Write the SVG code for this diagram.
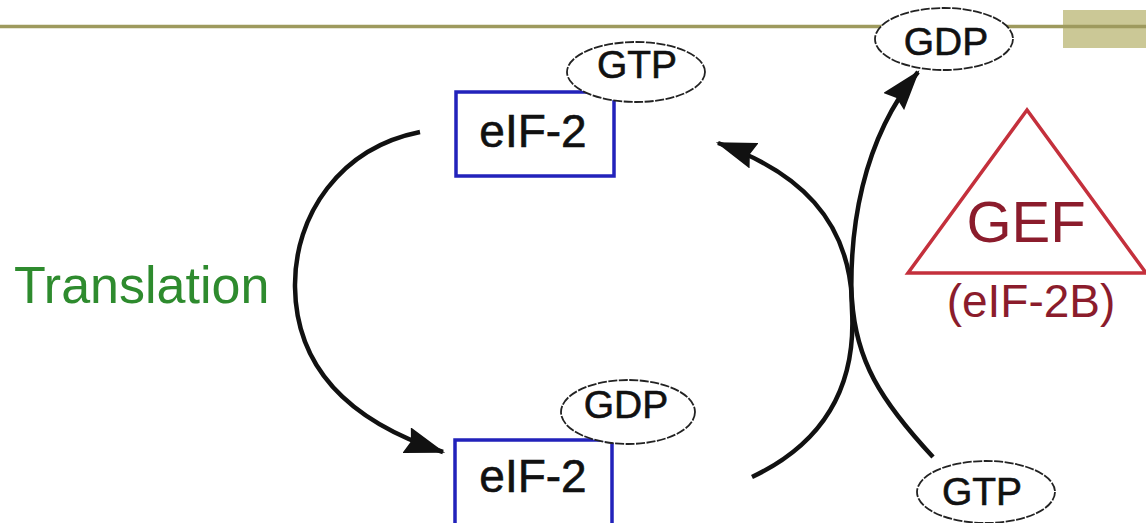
<svg xmlns="http://www.w3.org/2000/svg" width="1146" height="523" viewBox="0 0 1146 523">
<defs>
<style>
.box{fill:#fff;stroke:#2222bb;stroke-width:3.5}
.ell{fill:#fff;stroke:#222;stroke-width:1.8;stroke-dasharray:9 1.5}
.t{font-family:"Liberation Sans",Arial,sans-serif;fill:#111;stroke:#111;stroke-width:0.6;text-anchor:middle}
.eif{font-size:46px}
.nuc{font-size:39px}
.arc{fill:none;stroke:#111;stroke-width:4.5}
</style>
<marker id="ah" viewBox="0 0 18 12" refX="17" refY="6" markerWidth="9" markerHeight="6" markerUnits="strokeWidth" orient="auto">
<path d="M0,0 L18,6 L0,12 L2,6 Z" fill="#111"/>
</marker>
</defs>
<rect width="1146" height="523" fill="#fff"/>
<g id="header">
<line x1="0" y1="26.5" x2="1146" y2="26.5" stroke="#9e9a5e" stroke-width="3.5"/>
<rect x="1063" y="10" width="83" height="38" fill="#cbc896"/>
<line x1="1063" y1="26.5" x2="1146" y2="26.5" stroke="#9e9a5e" stroke-width="3.5"/>
</g>
<g id="connectors">
<path class="arc" d="M420,132 C340,148 294,215 295,287 C296,365 345,420 443,452" marker-end="url(#ah)"/>
<path class="arc" d="M752,477 C830,440 856,380 852,310 C848,230 862,140 918,72" marker-end="url(#ah)"/>
<path class="arc" d="M933,457 C880,400 856,360 852,300 C848,220 800,172 718,143" marker-end="url(#ah)"/>
</g>
<g id="gdp-top">
<ellipse class="ell" cx="944" cy="39" rx="69" ry="31"/>
<text class="t nuc" x="946" y="55">GDP</text>
</g>
<g id="eif2-top">
<rect class="box" x="456" y="92" width="158" height="84"/>
<text class="t eif" x="533" y="147">eIF-2</text>
</g>
<g id="gtp-top">
<ellipse class="ell" cx="636" cy="72" rx="69" ry="30"/>
<text class="t nuc" x="637" y="78">GTP</text>
</g>
<g id="eif2-bottom">
<rect class="box" x="455" y="440" width="157" height="90"/>
<text class="t eif" x="533" y="492">eIF-2</text>
</g>
<g id="gdp-bottom">
<ellipse class="ell" cx="628" cy="412" rx="67" ry="32"/>
<text class="t nuc" x="626" y="418">GDP</text>
</g>
<g id="gtp-bottom">
<ellipse class="ell" cx="986" cy="492" rx="69" ry="31"/>
<text class="t nuc" x="982" y="505">GTP</text>
</g>
<g id="translation">
<text x="14" y="303" font-family="'Liberation Sans',Arial,sans-serif" font-size="52" fill="#2e8b2e">Translation</text>
</g>
<g id="gef">
<polygon points="1027,110 908,273 1146,273" fill="none" stroke="#c4303c" stroke-width="3.5"/>
<text x="1026" y="242" font-family="'Liberation Sans',Arial,sans-serif" font-size="58" fill="#8b1c2c" text-anchor="middle">GEF</text>
<text x="1031" y="317" font-family="'Liberation Sans',Arial,sans-serif" font-size="46" fill="#8b1c2c" text-anchor="middle">(eIF-2B)</text>
</g>
</svg>
